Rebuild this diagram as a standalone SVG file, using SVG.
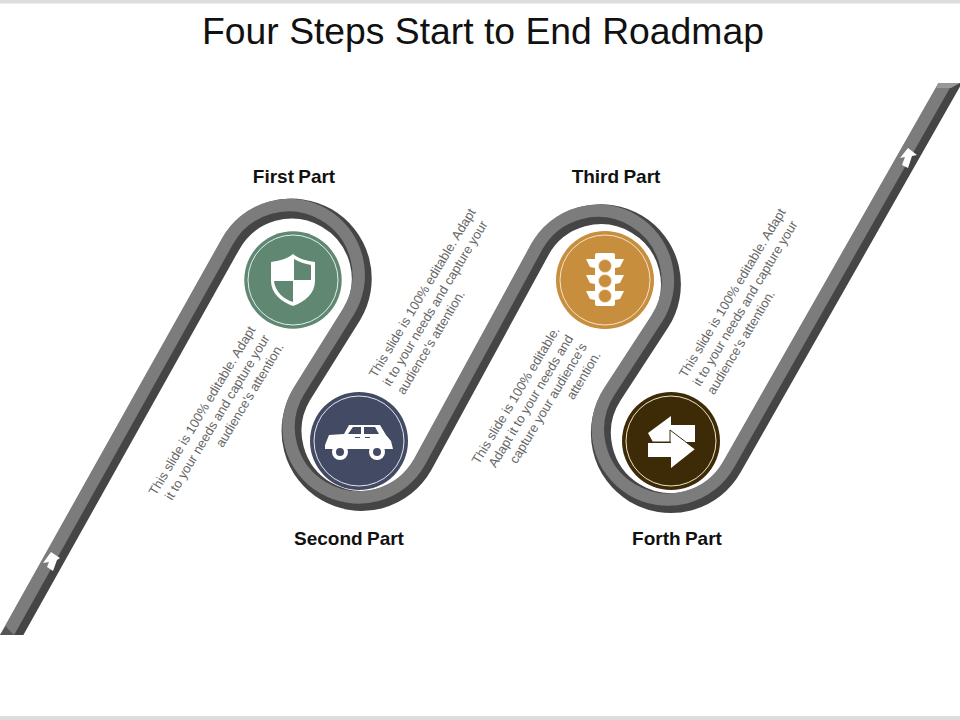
<svg xmlns="http://www.w3.org/2000/svg" width="960" height="720" viewBox="0 0 960 720">
<style>
.road{fill:none;stroke-linejoin:round}
.dark{stroke:#454545;stroke-width:20}
.light{stroke:#7c7c7c;stroke-width:12.5}
.title{font:37.3px "Liberation Sans",Arial,sans-serif;fill:#111;text-anchor:middle}
.label{font:bold 19px "Liberation Sans",Arial,sans-serif;fill:#111;text-anchor:middle;word-spacing:-1px}
.note{font:13px "Liberation Sans",Arial,sans-serif;fill:#666}
.ring{fill:none;stroke-width:1}
.ico{fill:#fff}
</style>
<defs>
<clipPath id="clip"><rect x="0" y="83" width="960" height="552"/></clipPath>
<path id="route" d="M-6 667 L230.3 245 A70 70 0 1 1 351.5 315 L301.5 395 A70 70 0 1 0 422.5 465.4 L539.5 250.6 A70 70 0 1 1 659.7 322.2 L612.3 394.8 A70 70 0 1 0 731.8 467.6 L975 40"/>
</defs>
<rect x="0" y="0" width="960" height="3.5" fill="#dcdcdc"/>
<rect x="0" y="716" width="960" height="4" fill="#dcdcdc"/>
<text class="title" x="483" y="44">Four Steps Start to End Roadmap</text>
<g id="connectors">
<g clip-path="url(#clip)">
<use href="#route" class="road dark"/>
<use href="#route" class="road light" transform="translate(-3 -3.5)"/>
<polygon points="0,635 14,635 8,629 6,626" fill="#555"/>
<polygon points="939,83 960,83 951,88 936,88" fill="#999"/>
</g>
<polygon points="43,563 51,552 60,558 57,560 53,571 47,567 49,562" fill="#fff"/>
<polygon points="900,158 908,148 917,155 912,156 908,168 902,165 905,157" fill="#fff"/>
</g>
<g id="node-first">
<circle cx="293" cy="280" r="48.7" fill="#5f8771"/>
<circle class="ring" cx="293" cy="280" r="45" stroke="#e4efe8"/>
<path class="ico" d="M293 254 C299 259 307 261 315 262 L315 281 C315 293 305 302 293 306 C281 302 271 293 271 281 L271 262 C279 261 287 259 293 254Z"/>
<path d="M294 259 C299 262 305 264 311 265 L311 280 L294 280Z M274 281 L293 281 L293 302 C283 299 275 291 274 281Z" fill="#5f8771"/>
<text class="label" x="294" y="182.5">First Part</text>
</g>
<g id="node-second">
<circle cx="359" cy="441" r="49" fill="#434a63"/>
<circle class="ring" cx="359" cy="441" r="45" stroke="#e4e6ee"/>
<path class="ico" d="M325 449 L325 445 L329 435 L344 434 L349 425 L380 425 L386 435 L391 441 L393 449 Z"/>
<path d="M348 434 L353 427 L361 427 L361 434Z M364 427 L375 427 L379 434 L364 434Z" fill="#434a63"/>
<path d="M355 437.5 H360 M365 437.5 H370" stroke="#434a63" stroke-width="1.2"/>
<circle cx="340" cy="452" r="8" fill="#fff"/><circle cx="340" cy="452" r="4" fill="#434a63"/>
<circle cx="377" cy="452" r="8" fill="#fff"/><circle cx="377" cy="452" r="4" fill="#434a63"/>
<text class="label" x="349" y="544.5">Second Part</text>
</g>
<g id="node-third">
<circle cx="605" cy="280" r="49" fill="#c78e3e"/>
<circle class="ring" cx="605" cy="280" r="45" stroke="#f5e3c8"/>
<rect class="ico" x="595" y="253" width="20" height="53" rx="2"/>
<path class="ico" d="M586 259 L595 259 L595 268 L590 267Z M624 259 L615 259 L615 268 L620 267Z M586 275 L595 275 L595 284 L590 283Z M624 275 L615 275 L615 284 L620 283Z M586 291 L595 291 L595 300 L590 299Z M624 291 L615 291 L615 300 L620 299Z"/>
<g fill="#c78e3e" stroke="#f5e3c8" stroke-width="0.8">
<circle cx="605" cy="266" r="6.5"/><circle cx="605" cy="281" r="6.5"/><circle cx="605" cy="296" r="6.5"/>
</g>
<text class="label" x="616" y="182.5">Third Part</text>
</g>
<g id="node-fourth">
<circle cx="671" cy="441" r="49" fill="#3d2b08"/>
<circle class="ring" cx="671" cy="441" r="45" stroke="#efe3c5"/>
<polygon class="ico" points="648,433 671,416 671,425 695,425 695,442 653,442"/>
<polygon class="ico" points="648,443 671,443 671,431 695,449 671,468 671,457 648,457"/>
<path d="M653 442 L670 442 L670 430 L695 449" stroke="#3d2b08" stroke-width="1" fill="none"/>
<text class="label" x="677" y="544.5">Forth Part</text>
</g>
<g id="notes">
<text class="note" text-anchor="end" transform="translate(270 338) rotate(-59)"><tspan x="0" y="-16.4">This slide is 100% editable. Adapt</tspan><tspan x="0" y="0">it to your needs and capture your</tspan><tspan x="0" y="16.4">audience's attention.</tspan></text>
<text class="note" transform="translate(390 387) rotate(-59)"><tspan x="0" y="-16.4">This slide is 100% editable. Adapt</tspan><tspan x="0" y="0">it to your needs and capture your</tspan><tspan x="0" y="16.4">audience's attention.</tspan></text>
<text class="note" text-anchor="end" transform="translate(560 330) rotate(-59)"><tspan x="0" y="0">This slide is 100% editable.</tspan><tspan x="0" y="16">Adapt it to your needs and</tspan><tspan x="0" y="32">capture your audience's</tspan><tspan x="0" y="48">attention.</tspan></text>
<text class="note" transform="translate(700 387) rotate(-59)"><tspan x="0" y="-16.4">This slide is 100% editable. Adapt</tspan><tspan x="0" y="0">it to your needs and capture your</tspan><tspan x="0" y="16.4">audience's attention.</tspan></text>
</g>
</svg>
